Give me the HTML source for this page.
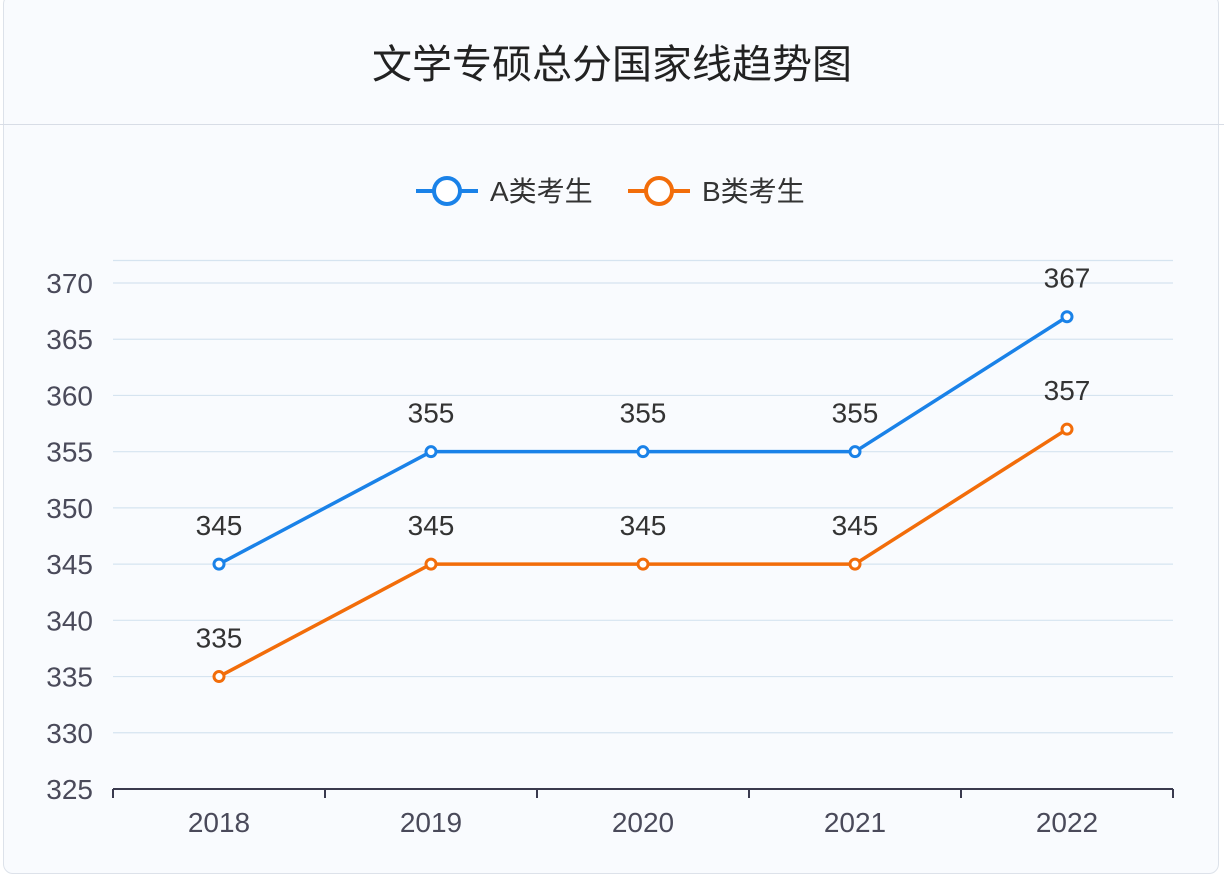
<!DOCTYPE html>
<html><head><meta charset="utf-8"><style>
body{margin:0;background:#fff;width:1224px;height:878px;overflow:hidden;font-family:"Liberation Sans","Noto Sans CJK SC",sans-serif;}
#card{position:absolute;left:3px;top:-6px;width:1216px;height:880px;border:1px solid #dde2ea;border-radius:10px;background:#f9fbfe;box-sizing:border-box;}
#title{position:absolute;left:0;top:0;width:1224px;height:124px;border-bottom:1.5px solid #d8dde6;text-align:center;line-height:122px;font-size:40px;color:#222;font-family:"Noto Sans CJK SC",sans-serif;}
svg{position:absolute;left:0;top:0}
</style></head><body>
<div id="card"></div>
<div id="title">文学专硕总分国家线趋势图</div>
<svg id="c" width="1224" height="878"></svg>
<script>
const categories=["2018","2019","2020","2021","2022"];
const seriesA=[345,355,355,355,367];
const seriesB=[335,345,345,345,357];
const yTicks=[325,330,335,340,345,350,355,360,365,370];
const seriesNames=["A类考生","B类考生"];
const colors=["#1a82e8","#f26d0a"];
const svg=document.getElementById('c');const NS='http://www.w3.org/2000/svg';
const X0=113,X1=1173,Y0=789,Y370=283;
const y=v=>Y0-(v-325)*(Y0-Y370)/45;
const bw=(X1-X0)/categories.length;
const x=i=>X0+bw*(i+0.5);
function mk(t,a,p){const e=document.createElementNS(NS,t);for(const k in a)e.setAttribute(k,a[k]);(p||svg).appendChild(e);return e;}
yTicks.forEach(v=>{
 if(v>325){const l=mk('line',{x1:X0,x2:X1,y1:y(v),y2:y(v),stroke:'#d6e4f0','stroke-width':1.2});
 
 }
 const t=mk('text',{x:93,y:y(v)+10,'text-anchor':'end','font-size':28,fill:'#4a4a5a'});t.textContent=v;
 
 
});
const topLine=mk('line',{x1:X0,x2:X1,y1:y(372),y2:y(372),stroke:'#d6e4f0','stroke-width':1.2});


const ax=mk('line',{x1:X0,x2:X1,y1:Y0,y2:Y0,stroke:'#3a3a4e','stroke-width':2});


for(let i=0;i<=categories.length;i++){const tk=mk('line',{x1:X0+bw*i,x2:X0+bw*i,y1:Y0,y2:Y0+9,stroke:'#3a3a4e','stroke-width':2});
 
 }
categories.forEach((c,i)=>{const t=mk('text',{x:x(i),y:832,'text-anchor':'middle','font-size':28,fill:'#4a4a5a'});t.textContent=c;
 
 });
[seriesA,seriesB].forEach((s,k)=>{
 const g=mk('g',{});
 
 
 mk('polyline',{points:s.map((v,i)=>x(i)+','+y(v)).join(' '),fill:'none',stroke:colors[k],'stroke-width':3.5},g);
 s.forEach((v,i)=>{const p=mk('circle',{cx:x(i),cy:y(v),r:5,fill:'#fff',stroke:colors[k],'stroke-width':3},g);
  
  
  const t=mk('text',{x:x(i),y:y(v)-29,'text-anchor':'middle','font-size':28,fill:'#333'},g);t.textContent=v;
  
  });
});
const lx=[416,628];
seriesNames.forEach((n,k)=>{const g=mk('g',{});
 
 
 mk('line',{x1:lx[k],x2:lx[k]+62,y1:191,y2:191,stroke:colors[k],'stroke-width':4},g);
 mk('circle',{cx:lx[k]+31,cy:191,r:13,fill:'#fff',stroke:colors[k],'stroke-width':4},g);
 const t=mk('text',{x:lx[k]+74,y:201,'font-size':28,fill:'#333'},g);t.textContent=n;});
</script>
</body></html>
